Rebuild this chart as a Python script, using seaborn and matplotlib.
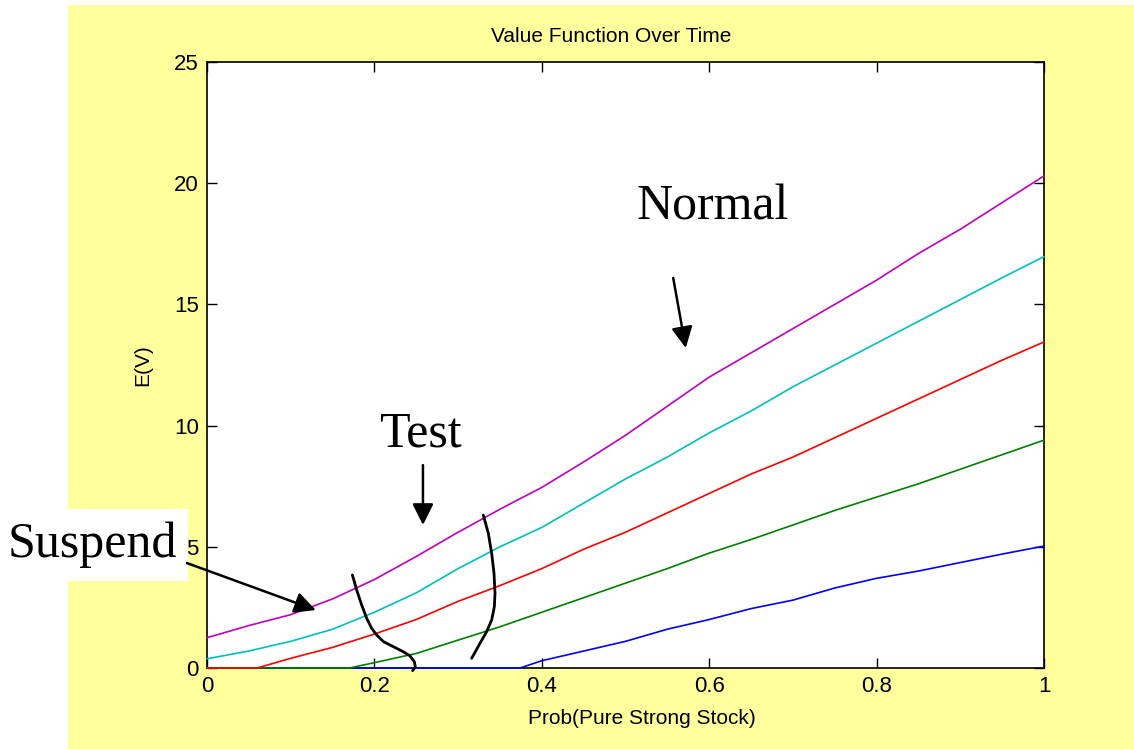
import numpy as np
import pandas as pd
import seaborn as sns
import matplotlib.pyplot as plt
from matplotlib.patches import Rectangle

# value function curves (prob -> E(V))
p_mag = [0, 0.05, 0.1, 0.15, 0.2, 0.25, 0.3, 0.35, 0.4, 0.45, 0.5, 0.55, 0.6, 0.65, 0.7, 0.75, 0.8, 0.85, 0.9, 0.95, 1.0]
v_mag = [1.25, 1.75, 2.2, 2.85, 3.65, 4.6, 5.6, 6.55, 7.45, 8.5, 9.6, 10.8, 12.0, 13.0, 14.0, 15.0, 16.0, 17.1, 18.1, 19.2, 20.3]
p_cyan = p_mag
v_cyan = [0.38, 0.7, 1.1, 1.6, 2.3, 3.1, 4.1, 5.0, 5.8, 6.8, 7.8, 8.7, 9.7, 10.6, 11.6, 12.5, 13.4, 14.3, 15.2, 16.1, 16.97]
p_red = [0, 0.06, 0.1, 0.15, 0.2, 0.25, 0.3, 0.35, 0.4, 0.45, 0.5, 0.55, 0.6, 0.65, 0.7, 0.75, 0.8, 0.85, 0.9, 0.95, 1.0]
v_red = [0, 0, 0.4, 0.85, 1.4, 2.0, 2.75, 3.4, 4.1, 4.9, 5.6, 6.4, 7.2, 8.0, 8.7, 9.5, 10.3, 11.1, 11.9, 12.7, 13.45]
p_green = [0, 0.17, 0.2, 0.25, 0.3, 0.35, 0.4, 0.45, 0.5, 0.55, 0.6, 0.65, 0.7, 0.75, 0.8, 0.85, 0.9, 0.95, 1.0]
v_green = [0, 0, 0.22, 0.6, 1.15, 1.7, 2.3, 2.9, 3.5, 4.1, 4.74, 5.3, 5.9, 6.5, 7.05, 7.6, 8.2, 8.8, 9.4]
p_blue = [0, 0.374, 0.4, 0.45, 0.5, 0.55, 0.6, 0.65, 0.7, 0.75, 0.8, 0.85, 0.9, 0.95, 1.0]
v_blue = [0, 0, 0.3, 0.7, 1.1, 1.6, 2.0, 2.45, 2.8, 3.3, 3.7, 4.0, 4.35, 4.7, 5.03]

# hand-drawn boundary curves
bnd1_p = [0.1737, 0.1788, 0.1848, 0.1908, 0.1967, 0.2027, 0.2107, 0.2226, 0.2346, 0.2425, 0.2477, 0.2489, 0.2457]
bnd1_v = [3.84, 3.22, 2.60, 2.05, 1.64, 1.36, 1.09, 0.88, 0.67, 0.50, 0.26, 0.05, -0.11]
bnd2_p = [0.3301, 0.3361, 0.3401, 0.3429, 0.3441, 0.3433, 0.3401, 0.3341, 0.3262, 0.3162]
bnd2_v = [6.31, 5.56, 4.73, 3.91, 3.08, 2.53, 1.98, 1.50, 1.02, 0.40]

xticks = [0, 0.2, 0.4, 0.6, 0.8, 1]
xtick_labels = ['0', '0.2', '0.4', '0.6', '0.8', '1']
yticks = [0, 5, 10, 15, 20, 25]

sns.set_style('ticks')
plt.rcParams['font.family'] = ['Liberation Sans', 'DejaVu Sans']
plt.rcParams['text.color'] = 'black'

W, H = 1134, 749
fig = plt.figure(figsize=(W / 100, H / 100), dpi=100)
fig.patch.set_facecolor('white')
fig.patches.append(Rectangle((68 / W, 0), 1 - 68 / W, (H - 5) / H, transform=fig.transFigure,
                             facecolor='#FFFF9C', edgecolor='none', zorder=-10))

ax = fig.add_axes([207 / W, 81 / H, (1044 - 207) / W, (668 - 62) / H])
ax.set_facecolor('white')

series = [(p_blue, v_blue, '#0000FF'), (p_green, v_green, '#008000'), (p_red, v_red, '#FF0000'),
          (p_cyan, v_cyan, '#00BFBF'), (p_mag, v_mag, '#BF00BF')]
for p, v, c in series:
    sns.lineplot(x=p, y=v, ax=ax, color=c, lw=1.2, estimator=None, sort=False)
for ln in ax.lines:
    ln.set_clip_on(False)
    ln.set_zorder(3)

ax.plot(bnd1_p, bnd1_v, color='black', lw=2, clip_on=False, zorder=5)
ax.plot(bnd2_p, bnd2_v, color='black', lw=2, clip_on=False, zorder=5)

ax.set_xlim(0, 1)
ax.set_ylim(0, 25)
ax.set_xticks(xticks)
ax.set_xticklabels(xtick_labels)
ax.set_yticks(yticks)
ax.tick_params(direction='in', length=7, width=1, top=True, right=True, labelsize=16, pad=6,
               colors='black')
for s in ax.spines.values():
    s.set_color('black')
    s.set_linewidth(1.2)
    s.set_zorder(2)

fig.text(611 / W, 1 - 36 / H, 'Value Function Over Time', ha='center', va='center', fontsize=15)
fig.text(642 / W, 1 - 718 / H, 'Prob(Pure Strong Stock)', ha='center', va='center', fontsize=15)
fig.text(143 / W, 1 - 365 / H, 'E(V)', ha='center', va='center', rotation=90, fontsize=15)

serif = ['Liberation Serif', 'DejaVu Serif']
arrow = dict(arrowstyle='-|>', mutation_scale=32, lw=1.8, color='black', shrinkA=0, shrinkB=0)

fig.text(713 / W, 1 - 207 / H, 'Normal', ha='center', va='center', fontsize=36, family=serif)
ax.annotate('', xy=(0.572, 13.2), xytext=(0.557, 16.09), arrowprops=arrow)

fig.text(420 / W, 1 - 434 / H, 'Test', ha='center', va='center', fontsize=36, family=serif)
ax.annotate('', xy=(0.258, 5.9), xytext=(0.258, 8.37), arrowprops=arrow)

fig.patches.append(Rectangle((0, 1 - 581 / H), 188 / W, 72 / H, transform=fig.transFigure,
                             facecolor='white', edgecolor='none', zorder=-5))
fig.text(92 / W, 1 - 545 / H, 'Suspend', ha='center', va='center', fontsize=36, family=serif)
ax.annotate('', xy=(0.130, 2.39), xytext=(-0.024, 4.33), arrowprops=arrow, annotation_clip=False)

fig.savefig('out.png', dpi=100)
